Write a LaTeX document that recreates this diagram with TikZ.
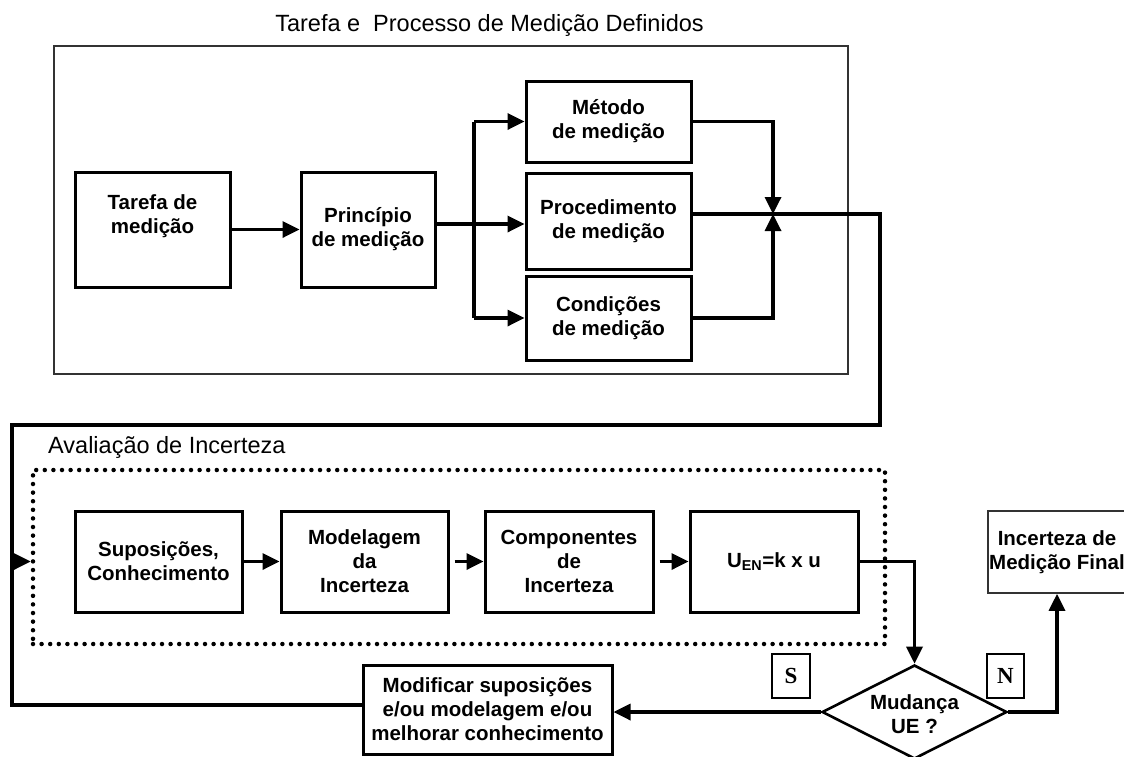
\documentclass[tikz,border=0pt]{standalone}
\usepackage{fontspec}
\setmainfont{Liberation Sans}
\newfontfamily\serifletter{Liberation Serif}
\usetikzlibrary{arrows.meta,shapes.geometric,calc}
\begin{document}
\begin{tikzpicture}[x=1pt,y=-1pt,
  box/.style={draw,line width=3pt,inner sep=0pt,align=center,
     font=\fontsize{20.5}{24}\selectfont\bfseries},
  thinbox/.style={draw=black!80,line width=1.6pt,inner sep=0pt,align=center,
     font=\fontsize{20.5}{24}\selectfont\bfseries},
  conn/.style={line width=3.4pt},
  arr/.style={conn,-{Triangle[length=17pt,width=16pt]}},
  dotbox/.style={draw,line width=4.5pt,line cap=round,dash pattern=on 0pt off 8.6pt,inner sep=0pt},
  lettbox/.style={draw,line width=2.2pt,inner sep=0pt,font=\serifletter\fontsize{23}{24}\selectfont\bfseries},
  lbl/.style={font=\fontsize{23.5}{28}\selectfont,inner sep=0pt}
]
\useasboundingbox (0,0) rectangle (1124,756);

% top group
\node[draw=black!80,line width=1.6pt,minimum width=794pt,minimum height=328pt,inner sep=0pt] (topgrp) at (451,210) {};
\node[lbl] (title) at (489.5,25) {Tarefa e~ Processo de Medição Definidos};

\node[box,minimum width=155pt,minimum height=115pt] (tarefa) at (152.5,229.5) {Tarefa de\\medição\\[6pt]};
\node[box,minimum width=134pt,minimum height=115pt] (princ) at (368,229.5) {Princípio\\de medição};
\node[box,minimum width=165pt,minimum height=81pt] (metodo) at (608.5,121.5) {Método\\de medição};
\node[box,minimum width=165pt,minimum height=96pt] (proc) at (608.5,221) {Procedimento\\de medição};
\node[box,minimum width=165pt,minimum height=84pt] (cond) at (608.5,318) {Condições\\de medição};

\coordinate (bus) at (474,224);
\coordinate (junc) at (773,214);
\coordinate (loopTR) at (880,425);
\coordinate (loopL) at (12,425);
\coordinate (loopBL) at (12,705);

\draw[arr] (tarefa.east) -- (princ.west);
\draw[conn] (bus -| princ.east) -- (bus);
\draw[conn] (bus |- metodo.west) -- (bus |- cond.west);
\draw[arr] (bus |- metodo.west) -- (metodo.west);
\draw[arr] (bus) -- (bus -| proc.west);
\draw[arr] (bus |- cond.west) -- (cond.west);
\draw[arr] (metodo.east) -| (junc);
\draw[arr] (cond.east) -| (junc);

% uncertainty evaluation
\node[dotbox,minimum width=852pt,minimum height=174pt] (aval) at (459,557) {};
\node[lbl,anchor=west] (avaltitle) at (48,447) {Avaliação de Incerteza};

\node[box,minimum width=167pt,minimum height=101pt] (sup) at (158.5,561.5) {Suposições,\\Conhecimento};
\node[box,minimum width=167pt,minimum height=101pt] (modl) at (364.5,561.5) {Modelagem\\da\\Incerteza};
\node[box,minimum width=168pt,minimum height=101pt] (comp) at (569,561.5) {Componentes\\de\\Incerteza};
\node[box,minimum width=168pt,minimum height=101pt] (uen) at (774,561.5) {U\textsubscript{EN}=k x u};

\draw[arr] (sup.east) -- (modl.west);
\draw[arr,shorten <=5pt] (modl.east) -- (comp.west);
\draw[arr,shorten <=5pt] (comp.east) -- (uen.west);

% loop back
\node[box,minimum width=249pt,minimum height=89pt] (modif) at (487.5,709.5) {Modificar suposições\\e/ou modelagem e/ou\\melhorar conhecimento};
\draw[conn,line cap=rect] (junc -| proc.east) -| (loopTR) -- (loopL) -- (loopBL) -- (loopBL -| modif.west);
\draw[arr] (loopL |- sup.west) -- (aval.west |- sup.west);

% decision
\node[draw,diamond,line width=2.6pt,minimum width=185pt,minimum height=94pt,inner sep=0pt] (dec) at (914.5,712) {};
\node[font=\fontsize{20.5}{24}\selectfont\bfseries,align=center,inner sep=0pt] (dectext) at (914.5,714) {Mudança\\UE ?};
\node[lettbox,minimum width=38pt,minimum height=44pt] (sbox) at (791,676) {S};
\node[lettbox,minimum width=37pt,minimum height=44pt] (nbox) at (1005.5,676) {N};

\node[thinbox,minimum width=138pt,minimum height=82pt] (final) at (1057,552) {Incerteza de\\Medição Final};

\draw[arr] (uen.east) -| (dec.north);
\draw[arr] (dec.west) -- (dec.west -| modif.east);
\draw[arr] (dec.east) -| (final.south);
\end{tikzpicture}
\end{document}
